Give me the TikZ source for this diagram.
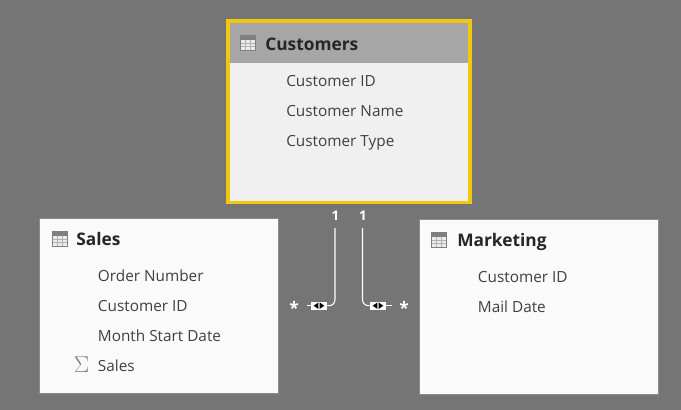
\documentclass[tikz,border=0pt]{standalone}
\usepackage{fontspec}
\setmainfont{Open Sans}
\definecolor{canvasgray}{HTML}{757575}
\definecolor{headgray}{HTML}{A6A6A6}
\definecolor{bodygray}{HTML}{F0F0F0}
\definecolor{cardwhite}{HTML}{FAFAFA}
\definecolor{selectyellow}{HTML}{F2C80F}
\definecolor{fieldink}{HTML}{404040}
\definecolor{iconink}{HTML}{7F7F7F}
\tikzset{
  card/.style={draw=black!45, line width=0.5pt, fill=cardwhite},
  fieldtext/.style={anchor=mid west, inner sep=0pt, yshift=-1.7pt, font=\fontsize{11.5}{14}\selectfont, text=fieldink},
  titletext/.style={anchor=mid west, inner sep=0pt, yshift=-2.2pt, font=\fontsize{13}{16}\bfseries\selectfont, text=black!85},
  endmark/.style={inner sep=0pt, text=white, font=\fontsize{10}{12}\bfseries\selectfont},
  manymark/.style={inner sep=0pt, text=white, font=\fontsize{13}{15}\bfseries\selectfont},
  relline/.style={draw=white, line width=0.8pt, rounded corners=4.5pt},
  relbox/.style={draw=none, fill=white, inner sep=0pt, minimum width=12pt, minimum height=6pt}
}
% small table glyph, corner given in pixels
\newcommand{\tableglyph}[2]{
  \fill[iconink] (#1,#2) rectangle ++(16,16);
  \fill[white!92!black] (#1+1,#2+5) rectangle ++(14,10);
  \foreach \k in {1,2} {
    \draw[iconink!60, line width=0.4pt] (#1+1+\k*14/3,#2+5) -- ++(0,10);
    \draw[iconink!60, line width=0.4pt] (#1+1,#2+5+\k*10/3) -- ++(14,0);
  }
}
% two small triangles inside a relation marker
\newcommand{\relglyph}[1]{
  \fill[black] ([xshift=-0.5pt,yshift=2.4pt]#1.center) -- ([xshift=-0.5pt,yshift=-2.4pt]#1.center) -- ([xshift=-4pt]#1.center) -- cycle;
  \fill[black] ([xshift=0.5pt,yshift=2.4pt]#1.center) -- ([xshift=0.5pt,yshift=-2.4pt]#1.center) -- ([xshift=4pt]#1.center) -- cycle;
}

\begin{document}
\begin{tikzpicture}[x=0.75pt, y=-0.75pt]
  % Canvas
  \fill[canvasgray] (0,0) rectangle (681,410);
  \useasboundingbox (0,0) rectangle (681,410);

  % Customers card
  \fill[selectyellow] (225.5,19.5) rectangle (471.5,204);
  \fill[bodygray] (229.5,23) rectangle (468,200.5);
  \fill[headgray] (229.5,23) rectangle (468,63);
  \tableglyph{240}{35}
  \node[titletext] (custtitle) at (265,44) {Customers};
  \foreach \y/\name/\txt in {81/custid/Customer ID, 111/custname/Customer Name, 141/custtype/Customer Type}
    \node[fieldtext] (\name) at (286,\y) {\txt};

  % Sales card
  \draw[card] (39.5,218) rectangle (278,393);
  \tableglyph{51.5}{230.5}
  \node[titletext] (salestitle) at (76,239) {Sales};
  \foreach \y/\name/\txt in {276/salesorder/Order Number, 306/salescust/Customer ID, 336/salesmonth/Month Start Date, 366/salesamt/Sales}
    \node[fieldtext] (\name) at (97.7,\y) {\txt};
  \node[inner sep=0pt, text=iconink, font=\LARGE] (salessigma) at (81.5,365) {$\Sigma$};

  % Marketing card
  \draw[card] (419.5,219) rectangle (658,394);
  \tableglyph{431}{232}
  \node[titletext] (marktitle) at (457,240) {Marketing};
  \foreach \y/\name/\txt in {277/markcust/Customer ID, 307/markdate/Mail Date}
    \node[fieldtext] (\name) at (477.7,\y) {\txt};

  % Relationship end labels
  \node[endmark] (oneleft) at (335.5,216) {1};
  \node[endmark] (oneright) at (363,216) {1};
  \node[manymark] (manyleft) at (294,307.5) {*};
  \node[manymark] (manyright) at (404,307.5) {*};

  % Relationship markers and free line ends
  \node[relbox] (relleft) at (319,305.7) {};
  \node[relbox] (relright) at (378,305.7) {};
  \coordinate (lefttop) at (335,228);
  \coordinate (leftend) at (306.5,305.7);
  \coordinate (righttop) at (362.5,228);
  \coordinate (rightend) at (391.5,305.7);

  % Relationship lines
  \draw[relline] (lefttop) |- (relleft.east);
  \draw[relline] (relleft.west) -- (leftend);
  \draw[relline] (righttop) |- (relright.west);
  \draw[relline] (relright.east) -- (rightend);
  \relglyph{relleft}
  \relglyph{relright}
\end{tikzpicture}
\end{document}
